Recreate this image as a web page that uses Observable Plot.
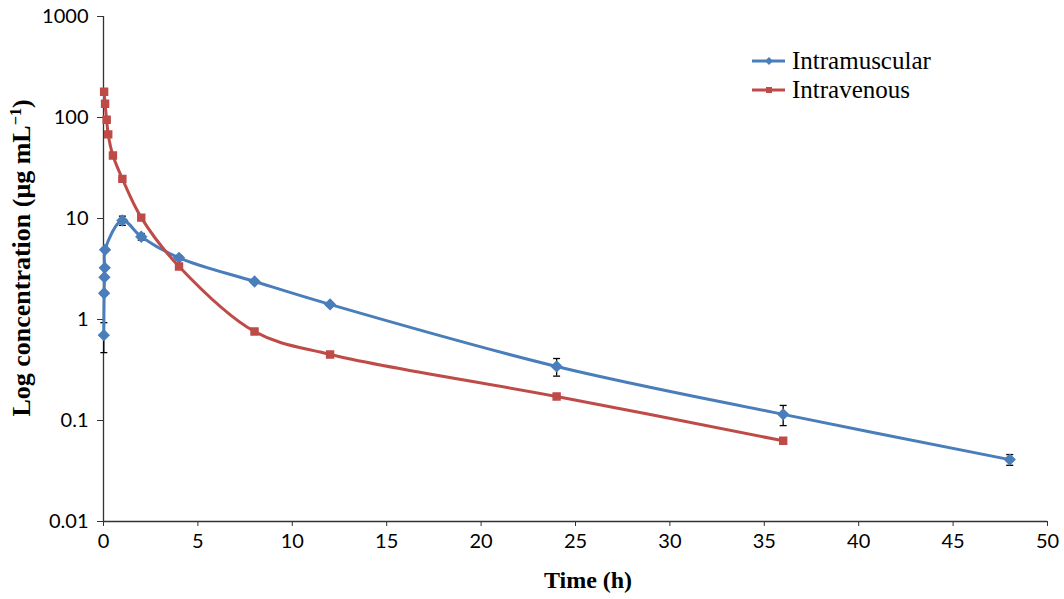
<!DOCTYPE html>
<html>
<head>
<meta charset="utf-8">
<script src="https://cdn.jsdelivr.net/npm/d3@7"></script>
<script src="https://cdn.jsdelivr.net/npm/@observablehq/plot@0.6"></script>
<style>
  html, body { margin: 0; padding: 0; background: #fff; }
  #wrap { position: relative; width: 1064px; height: 599px; overflow: hidden; }
  .ttl { position: absolute; font-family: "Liberation Serif", "Times New Roman", serif; font-weight: bold; font-size: 24px; color: #000; white-space: nowrap; }
  #ytitle { left: 22px; top: 258px; font-size: 26px; transform: translate(-50%, -50%) rotate(-90deg); }
  #xtitle { left: 588px; top: 580px; transform: translate(-50%, -50%); }
  #legend { position: absolute; left: 752px; top: 46px; font-family: "Liberation Serif", "Times New Roman", serif; font-size: 25px; color: #000; }
  .lrow { display: flex; align-items: center; height: 29px; }
  .lrow svg { margin-right: 7px; }
  sup { font-size: 0.62em; }
</style>
</head>
<body>
<div id="wrap"></div>
<script>
// Intramuscular
const imTime = [0.017, 0.033, 0.05, 0.067, 0.083, 1, 2, 4, 8, 12, 24, 36, 48];
const imConc = [0.70, 1.82, 2.62, 3.25, 4.9, 9.55, 6.6, 4.08, 2.38, 1.41, 0.343, 0.115, 0.041];
const imSD   = [0.23, 0.08, 0.1, 0.1, 0.15, 1.0, 0.5, 0.2, 0.1, 0.06, 0.068, 0.026, 0.005];
// Intravenous
const ivTime = [0.033, 0.083, 0.167, 0.25, 0.5, 1, 2, 4, 8, 12, 24, 36];
const ivConc = [180, 137, 95, 68, 42, 24.7, 10.2, 3.35, 0.76, 0.45, 0.173, 0.063];
const ivSD   = [5, 4, 3, 2, 1.2, 0.8, 0.3, 0.1, 0.02, 0.01, 0.004, 0.0045];

const seriesNames = ["Intramuscular", "Intravenous"];
const colors = ["#4A7EBB", "#BE4B48"];
const yTicks = [0.01, 0.1, 1, 10, 100, 1000];
const xTicks = [0, 5, 10, 15, 20, 25, 30, 35, 40, 45, 50];

const im = imTime.map((t, i) => ({t, c: imConc[i], sd: imSD[i], s: seriesNames[0]}));
const iv = ivTime.map((t, i) => ({t, c: ivConc[i], sd: ivSD[i], s: seriesNames[1]}));
const all = im.concat(iv);

const cap = {draw(ctx, size) { const r = 3.5; ctx.moveTo(-r, 0); ctx.lineTo(r, 0); }};

const chart = Plot.plot({
  width: 1064,
  height: 599,
  marginLeft: 103,
  marginRight: 17,
  marginTop: 16,
  marginBottom: 78,
  style: {background: "white", overflow: "visible"},
  x: {domain: [0, 50], ticks: xTicks},
  y: {type: "log", domain: [0.01, 1000], ticks: yTicks, tickFormat: d => String(d)},
  marks: [
    Plot.axisY({ticks: yTicks, tickFormat: d => String(d), tickSize: 6, tickPadding: 9, fontSize: 20, fontFamily: "Lato, 'Open Sans', sans-serif", label: null, stroke: "#333", color: "#000"}),
    Plot.axisX({ticks: xTicks, tickSize: 5, tickPadding: 7, fontSize: 20, fontFamily: "Lato, 'Open Sans', sans-serif", label: null, stroke: "#333", color: "#000"}),
    Plot.ruleX([0], {stroke: "#333", strokeWidth: 1.3}),
    Plot.ruleY([0.01], {stroke: "#333", strokeWidth: 1.3}),
    // error bars
    Plot.ruleX(all, {x: "t", y1: d => d.c - d.sd, y2: d => d.c + d.sd, stroke: "#000", strokeWidth: 1.3}),
    Plot.dot(all, {x: "t", y: d => d.c - d.sd, symbol: cap, stroke: "#000", strokeWidth: 1.3}),
    Plot.dot(all, {x: "t", y: d => d.c + d.sd, symbol: cap, stroke: "#000", strokeWidth: 1.3}),
    // lines
    Plot.line(im, {x: "t", y: "c", stroke: colors[0], strokeWidth: 3, curve: "catmull-rom"}),
    Plot.dot(im, {x: "t", y: "c", symbol: "diamond2", r: 4.6, fill: colors[0], stroke: colors[0]}),
    Plot.line(iv, {x: "t", y: "c", stroke: colors[1], strokeWidth: 3, curve: "catmull-rom"}),
    Plot.dot(iv, {x: "t", y: "c", symbol: "square", r: 3.9, fill: colors[1], stroke: colors[1]})
  ]
});

const wrap = document.getElementById("wrap");
wrap.appendChild(chart);

function addDiv(id, cls, html) {
  const d = document.createElement("div");
  d.id = id; d.className = cls; d.innerHTML = html;
  wrap.appendChild(d);
}
addDiv("ytitle", "ttl", "Log concentration (μg mL<sup>−1</sup>)");
addDiv("xtitle", "ttl", "Time (h)");

const legend = document.createElement("div");
legend.id = "legend";
const markerSvg = [
  '<polygon points="17,4 21,8 17,12 13,8" fill="' + colors[0] + '"/>',
  '<rect x="14" y="5" width="6" height="6" fill="' + colors[1] + '"/>'
];
seriesNames.forEach((name, i) => {
  const row = document.createElement("div");
  row.className = "lrow";
  row.innerHTML = '<svg width="33" height="16"><line x1="0" y1="8" x2="33" y2="8" stroke="' + colors[i] + '" stroke-width="3"/>' + markerSvg[i] + '</svg><span>' + name + '</span>';
  legend.appendChild(row);
});
wrap.appendChild(legend);
</script>
</body>
</html>
